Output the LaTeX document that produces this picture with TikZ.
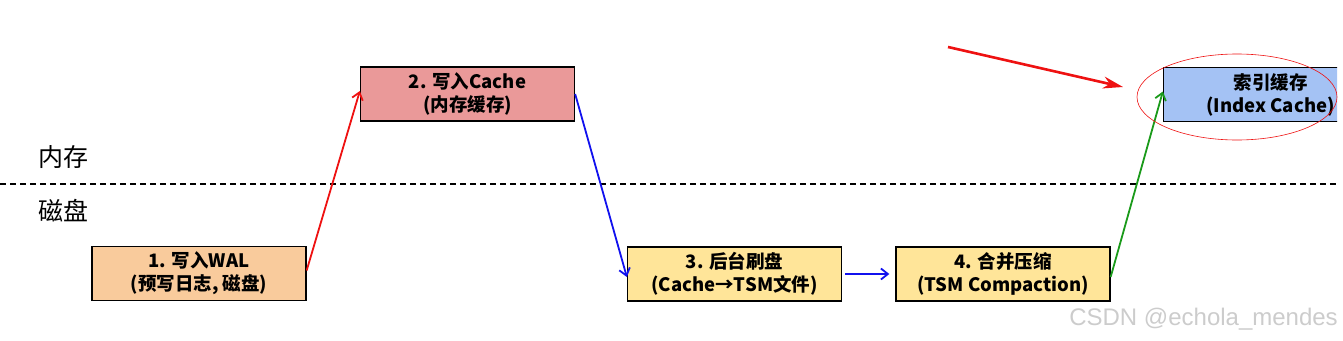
\documentclass[tikz,border=0pt]{standalone}
\usepackage{fontspec}
\setmainfont{Noto Sans CJK SC}
\newfontfamily\wmfont{Liberation Sans}
\usetikzlibrary{arrows.meta}
\definecolor{boxA}{HTML}{F9CB9C}
\definecolor{boxB}{HTML}{EA9999}
\definecolor{boxC}{HTML}{FFE599}
\definecolor{boxD}{HTML}{A4C2F4}
\definecolor{arrRed}{HTML}{EE1111}
\definecolor{arrBlue}{HTML}{1111EE}
\definecolor{arrGreen}{HTML}{1A9A1A}
\tikzset{
  stagebox/.style={draw=black, line width=1.3pt, minimum width=214pt, minimum height=54pt,
    align=center, inner sep=0pt, font=\fontsize{18.5}{23}\selectfont\bfseries},
  flow/.style={line width=1.8pt, -{Straight Barb[length=7pt,width=11pt]}},
  layerlabel/.style={anchor=west, font=\fontsize{25}{28}\selectfont}
}
\begin{document}
\begin{tikzpicture}[x=1pt,y=-1pt]
\useasboundingbox (0,0) rectangle (1343,340);
\node[stagebox, fill=boxA] (wal) at (199,273.5) {1. 写入WAL\\(预写日志, 磁盘)};
\node[stagebox, fill=boxB] (cache) at (467.5,94) {2. 写入Cache\\(内存缓存)};
\node[stagebox, fill=boxC] (flush) at (734.5,274) {3. 后台刷盘\\(Cache→TSM文件)};
\node[stagebox, fill=boxC] (compact) at (1003,274) {4. 合并压缩\\(TSM Compaction)};
\begin{scope}
\clip (0,0) rectangle (1337,340);
\node[stagebox, fill=boxD] (index) at (1270.5,94.5) {索引缓存\\(Index Cache)};
\end{scope}
\draw[dashed, line width=1.3pt, dash pattern=on 6pt off 4pt] (0,184) -- (1337,184);
\node[layerlabel] (mem) at (35,157) {内存};
\node[layerlabel] (disk) at (35,211) {磁盘};
\draw[flow, arrRed] (wal.east) ++(0,-3) coordinate (s1) -- ([yshift=3pt]cache.west);
\draw[flow, arrBlue] (cache.east) -- ([yshift=-3pt]flush.west);
\draw[flow, arrBlue] ([xshift=3pt]flush.east) -- ([xshift=-6pt]compact.west);
\draw[flow, arrGreen] ([yshift=-3pt]compact.east) -- ([yshift=3pt]index.west);
\coordinate (ptr) at (948,47);
\coordinate (ptrtip) at (1123,87);
\draw[arrRed, line width=2.6pt, -{Stealth[length=20pt,width=12pt]}] (ptr) -- (ptrtip);
\draw[arrRed, line width=0.6pt] (1237,97) ellipse [x radius=100, y radius=43];
\node[anchor=south east, inner sep=0pt, text=black!20, font=\wmfont\fontsize{24}{25}\selectfont] (wm) at (1338,330) {CSDN @echola\_mendes};
\end{tikzpicture}
\end{document}
